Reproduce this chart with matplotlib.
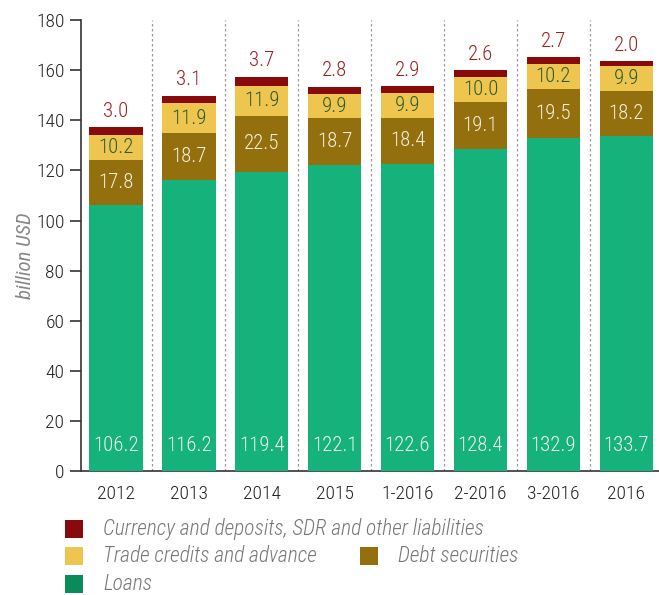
import matplotlib
matplotlib.use("Agg")
import matplotlib.pyplot as plt
from matplotlib.patches import Rectangle
import numpy as np

plt.rcParams['font.family'] = ['Roboto Condensed', 'DejaVu Sans']
plt.rcParams['font.weight'] = 'light'

# data
periods = ['2012', '2013', '2014', '2015', '1-2016', '2-2016', '3-2016', '2016']
loans = [106.2, 116.2, 119.4, 122.1, 122.6, 128.4, 132.9, 133.7]
debt = [17.8, 18.7, 22.5, 18.7, 18.4, 19.1, 19.5, 18.2]
trade = [10.2, 11.9, 11.9, 9.9, 9.9, 10.0, 10.2, 9.9]
currency = [3.0, 3.1, 3.7, 2.8, 2.9, 2.6, 2.7, 2.0]

c_loans = '#15b27b'
c_loans_leg = '#0b8a5b'
c_debt = '#936f0e'
c_trade = '#eec54e'
c_curr = '#880a0a'

fig = plt.figure(figsize=(6.59, 5.95), dpi=100)
ax = fig.add_axes([0.123, 0.2084, 0.877, 0.7576])

x = np.arange(len(periods))
w = 0.73
loans = np.array(loans)
debt = np.array(debt)
trade = np.array(trade)
currency = np.array(currency)

ax.bar(x, loans, w, color=c_loans, zorder=3)
ax.bar(x, debt, w, bottom=loans, color=c_debt, zorder=3)
ax.bar(x, trade, w, bottom=loans + debt, color=c_trade, zorder=3)
ax.bar(x, currency, w, bottom=loans + debt + trade, color=c_curr, zorder=3)

# separators
for s in x[:-1] + 0.5:
    ax.axvline(s, color='#9a9a9a', lw=0.9, ls=(0, (2, 2)), zorder=1)

fs = 15
for i in x:
    ax.text(i, 10, f'{loans[i]:.1f}', ha='center', va='center', color='#eef6ee', fontsize=fs, zorder=4)
    ax.text(i, loans[i] + debt[i] / 2, f'{debt[i]:.1f}', ha='center', va='center',
            color='#f6f0dc', fontsize=fs, zorder=4)
    ax.text(i, loans[i] + debt[i] + trade[i] / 2, f'{trade[i]:.1f}', ha='center', va='center',
            color='#2d5c2e', fontsize=fs, zorder=4)
    top = loans[i] + debt[i] + trade[i] + currency[i]
    ax.text(i, top + 2.5, f'{currency[i]:.1f}', ha='center', va='bottom',
            color='#9c2020', fontsize=fs, zorder=4)

ax.set_xlim(-0.48, 7.45)
ax.set_ylim(0, 180)
ax.set_yticks(range(0, 181, 20))
ax.set_xticks(x)
ax.set_xticklabels(periods)
ax.tick_params(axis='y', length=8, width=1.2, color='#333333', labelsize=14, labelcolor='#222222', pad=4)
ax.tick_params(axis='x', length=0, labelsize=14, labelcolor='#222222', pad=10)
for sp in ['top', 'right']:
    ax.spines[sp].set_visible(False)
ax.spines['left'].set_color('#333333')
ax.spines['left'].set_linewidth(1.2)
ax.spines['bottom'].set_color('#333333')
ax.spines['bottom'].set_linewidth(1.2)
ax.set_ylabel('billion USD', fontsize=15, style='italic', color='#888888')
ax.yaxis.set_label_coords(-0.08, 0.477)

# legend
legend_items = [
    (c_curr, 'Currency and deposits, SDR and other liabilities', 65, 529),
    (c_trade, 'Trade credits and advance', 65, 556),
    (c_debt, 'Debt securities', 360, 556),
    (c_loans_leg, 'Loans', 65, 584),
]
W, H = 659, 595
for col, lab, px, py in legend_items:
    fig.patches.append(Rectangle((px / W, 1 - (py + 9) / H), 18 / W, 18 / H,
                                 transform=fig.transFigure, facecolor=col, edgecolor='none'))
    fig.text((px + 38) / W, 1 - py / H, lab, ha='left', va='center', fontsize=15.5,
             style='italic', color='#777777')

fig.savefig('out.png', dpi=100)
